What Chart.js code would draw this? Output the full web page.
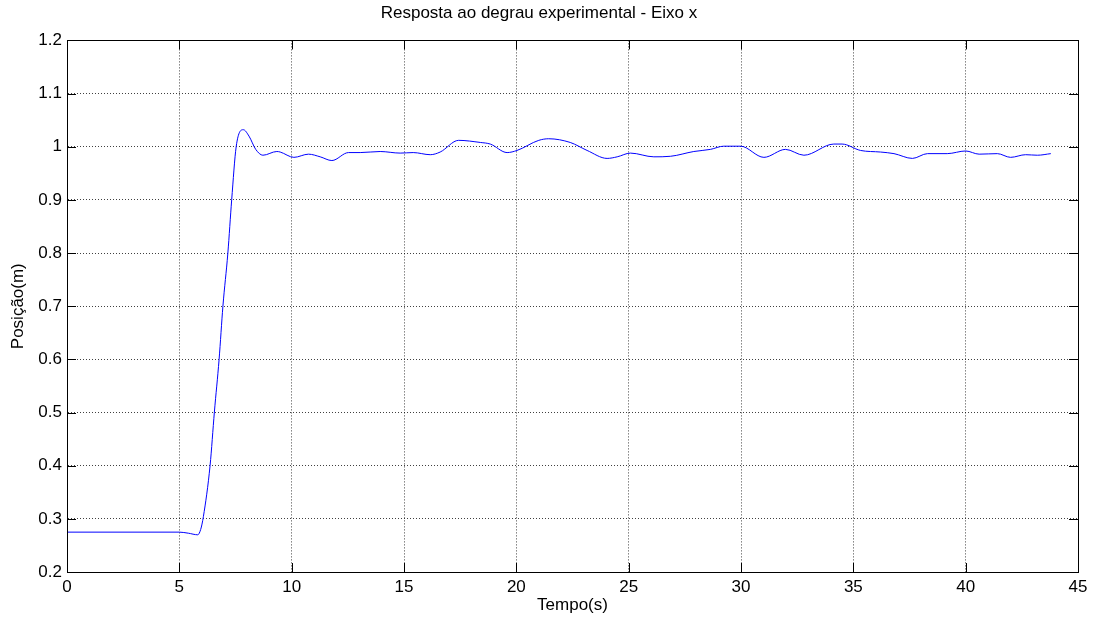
<!DOCTYPE html>
<html lang="pt">
<head>
  <meta charset="UTF-8" />
  <title>Resposta ao degrau experimental - Eixo x</title>
  <script src="https://cdn.jsdelivr.net/npm/chart.js"></script>
  <style>
    html, body { margin: 0; padding: 0; background: #fff; }
    #wrap { width: 1102px; height: 625px; }
  </style>
</head>
<body>
  <div id="wrap"><canvas id="stepChart" width="1102" height="625"></canvas></div>

  <script>
    // tempo (s) e posição (m)
    const tempo = [
      0, 5.0, 5.4, 5.82, 5.95, 6.07, 6.37, 6.56, 6.77, 6.94, 7.16, 7.33, 7.53,
      7.85, 8.1, 8.4, 8.72, 9.34, 9.49, 10.1, 10.75, 11.27, 11.79, 12.53, 13.05,
      13.94, 14.83, 15.41, 16.17, 16.61, 17.43, 18.4, 18.84, 19.59, 20.03, 21.0,
      21.44, 22.4, 23.15, 24.04, 24.49, 25.08, 26.12, 26.86, 27.9, 28.64, 29.23,
      29.98, 31.02, 31.98, 32.8, 34.13, 34.5, 35.32, 36.21, 36.81, 37.63, 38.3,
      39.18, 40.0, 40.6, 41.41, 42.0, 42.67, 43.19, 43.79
    ];
    const posicao = [
      0.275, 0.275, 0.273, 0.270, 0.280, 0.304, 0.401, 0.501, 0.600, 0.700, 0.800, 0.900, 1.000,
      1.032, 1.020, 0.995, 0.984, 0.991, 0.990, 0.980, 0.986, 0.981, 0.974, 0.989, 0.989,
      0.991, 0.988, 0.989, 0.985, 0.990, 1.012, 1.008, 1.005, 0.989, 0.993, 1.012,
      1.015, 1.008, 0.993, 0.978, 0.981, 0.988, 0.981, 0.982, 0.991, 0.995, 1.001,
      1.001, 0.980, 0.995, 0.984, 1.005, 1.005, 0.993, 0.990, 0.987, 0.978, 0.987,
      0.987, 0.992, 0.986, 0.987, 0.980, 0.985, 0.984, 0.987
    ];
    const xTicks = [0, 5, 10, 15, 20, 25, 30, 35, 40, 45];
    const yTicks = [0.2, 0.3, 0.4, 0.5, 0.6, 0.7, 0.8, 0.9, 1.0, 1.1, 1.2];

    const points = tempo.map((t, i) => ({ x: t, y: posicao[i] }));

    // caixa e marcas internas estilo MATLAB
    const boxPlugin = {
      id: 'matlabBox',
      afterDraw(chart) {
        const { ctx, chartArea: a, scales } = chart;
        const len = 9;
        ctx.save();
        ctx.strokeStyle = '#000';
        ctx.lineWidth = 1;
        ctx.strokeRect(Math.round(a.left) + 0.5, Math.round(a.top) + 0.5,
          Math.round(a.right - a.left), Math.round(a.bottom - a.top));
        ctx.beginPath();
        scales.x.ticks.forEach(tk => {
          const px = Math.round(scales.x.getPixelForValue(tk.value)) + 0.5;
          ctx.moveTo(px, a.bottom); ctx.lineTo(px, a.bottom - len);
          ctx.moveTo(px, a.top); ctx.lineTo(px, a.top + len);
        });
        scales.y.ticks.forEach(tk => {
          const py = Math.round(scales.y.getPixelForValue(tk.value)) + 0.5;
          ctx.moveTo(a.left, py); ctx.lineTo(a.left + len, py);
          ctx.moveTo(a.right, py); ctx.lineTo(a.right - len, py);
        });
        ctx.stroke();
        ctx.restore();
      }
    };

    const font = 'Liberation Sans, Arial, sans-serif';

    new Chart(document.getElementById('stepChart'), {
      type: 'line',
      data: {
        datasets: [{
          data: points,
          borderColor: '#0000ff',
          borderWidth: 1,
          pointRadius: 0,
          fill: false,
          cubicInterpolationMode: 'monotone'
        }]
      },
      options: {
        responsive: false,
        animation: false,
        layout: { padding: { left: 0, right: 24, top: 0, bottom: 0 } },
        plugins: {
          legend: { display: false },
          tooltip: { enabled: false },
          title: {
            display: true,
            text: 'Resposta ao degrau experimental - Eixo x',
            color: '#000',
            font: { family: font, size: 17, weight: 'normal' },
            padding: { top: 3, bottom: 17 }
          }
        },
        scales: {
          x: {
            type: 'linear',
            min: 0,
            max: 45,
            afterBuildTicks: s => { s.ticks = xTicks.map(v => ({ value: v })); },
            afterFit: s => { s.height = 53; },
            grid: { color: 'rgba(0,0,0,0.75)', drawTicks: false },
            border: { display: true, color: '#000', dash: [1, 2] },
            ticks: { color: '#000', padding: 5, maxRotation: 0,
              font: { family: font, size: 17 } },
            title: { display: true, text: 'Tempo(s)', color: '#000',
              font: { family: font, size: 17 }, padding: { top: 9, bottom: 9 } }
          },
          y: {
            min: 0.2,
            max: 1.2,
            afterBuildTicks: s => { s.ticks = yTicks.map(v => ({ value: v })); },
            afterFit: s => { s.width = 67; },
            grid: { color: 'rgba(0,0,0,0.75)', drawTicks: false },
            border: { display: true, color: '#000', dash: [1, 2] },
            ticks: { color: '#000', padding: 5,
              font: { family: font, size: 17 },
              callback: v => String(Math.round(v * 10) / 10) },
            title: { display: true, text: 'Posição(m)', color: '#000',
              font: { family: font, size: 17 }, padding: { top: 8, bottom: 8 } }
          }
        }
      },
      plugins: [boxPlugin]
    });
  </script>
</body>
</html>
